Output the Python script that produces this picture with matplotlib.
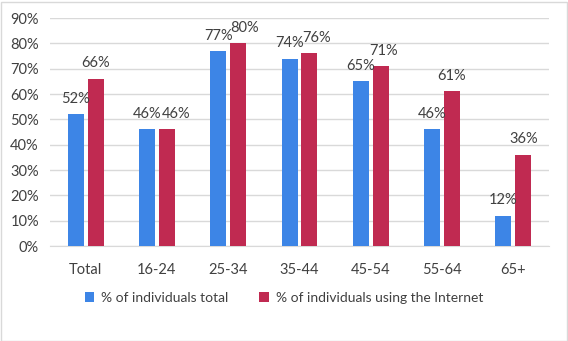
import matplotlib.pyplot as plt
import numpy as np

categories = ["Total", "16-24", "25-34", "35-44", "45-54", "55-64", "65+"]
total = [52, 46, 77, 74, 65, 46, 12]
internet = [66, 46, 80, 76, 71, 61, 36]
series_names = ["% of individuals total", "% of individuals using the Internet"]

blue = "#3D85E6"
red = "#C02A51"
txt = "#404040"

plt.rcParams['font.family'] = ['Lato', 'DejaVu Sans']

fig = plt.figure(figsize=(5.68, 3.41), dpi=100)
ax = fig.add_axes([50 / 568, 95 / 341, 499 / 568, 228 / 341])

x = np.arange(len(categories))
w = 0.225
off = 0.14
b1 = ax.bar(x - off, total, w, color=blue, label=series_names[0], zorder=3)
b2 = ax.bar(x + off, internet, w, color=red, label=series_names[1], zorder=3)

for r, v in zip(b1, total):
    ax.annotate(f"{v}%", (r.get_x() + r.get_width() / 2, v), xytext=(0, 6),
                textcoords="offset points", ha="center", va="bottom",
                fontsize=10.5, color=txt)
# nudge the red labels right where they would collide with the blue ones
for r, v, t in zip(b2, internet, total):
    dx = max(0, 9 - abs(v - t)) * 0.72
    ax.annotate(f"{v}%", (r.get_x() + r.get_width() / 2, v), xytext=(dx, 6),
                textcoords="offset points", ha="center", va="bottom",
                fontsize=10.5, color=txt)

ax.set_xlim(-0.5, len(categories) - 0.5)
ax.set_ylim(0, 90)
ax.set_yticks(range(0, 91, 10))
ax.set_yticklabels([f"{t}%" for t in range(0, 91, 10)])
ax.set_xticks(x)
ax.set_xticklabels(categories)
ax.tick_params(length=0, labelsize=10.5, labelcolor=txt, pad=8)
ax.tick_params(axis="x", pad=12)
ax.grid(axis="y", color="#D9D9D9", linewidth=1, zorder=0)
for s in ("top", "right", "left"):
    ax.spines[s].set_visible(False)
ax.spines["bottom"].set_color("#D9D9D9")

fig.legend(loc="center", bbox_to_anchor=(0.5, 1 - 298 / 341), ncol=2, frameon=False,
           fontsize=10, labelcolor=txt, handlelength=0.7, handleheight=0.7,
           handletextpad=0.5, columnspacing=2.2)

fig.patches.append(plt.Rectangle((0.5 / 568, 0.5 / 341), 566 / 568, 339 / 341,
                                 transform=fig.transFigure, fill=False,
                                 edgecolor="#D9D9D9", linewidth=1))

fig.savefig("out.png", dpi=100)
